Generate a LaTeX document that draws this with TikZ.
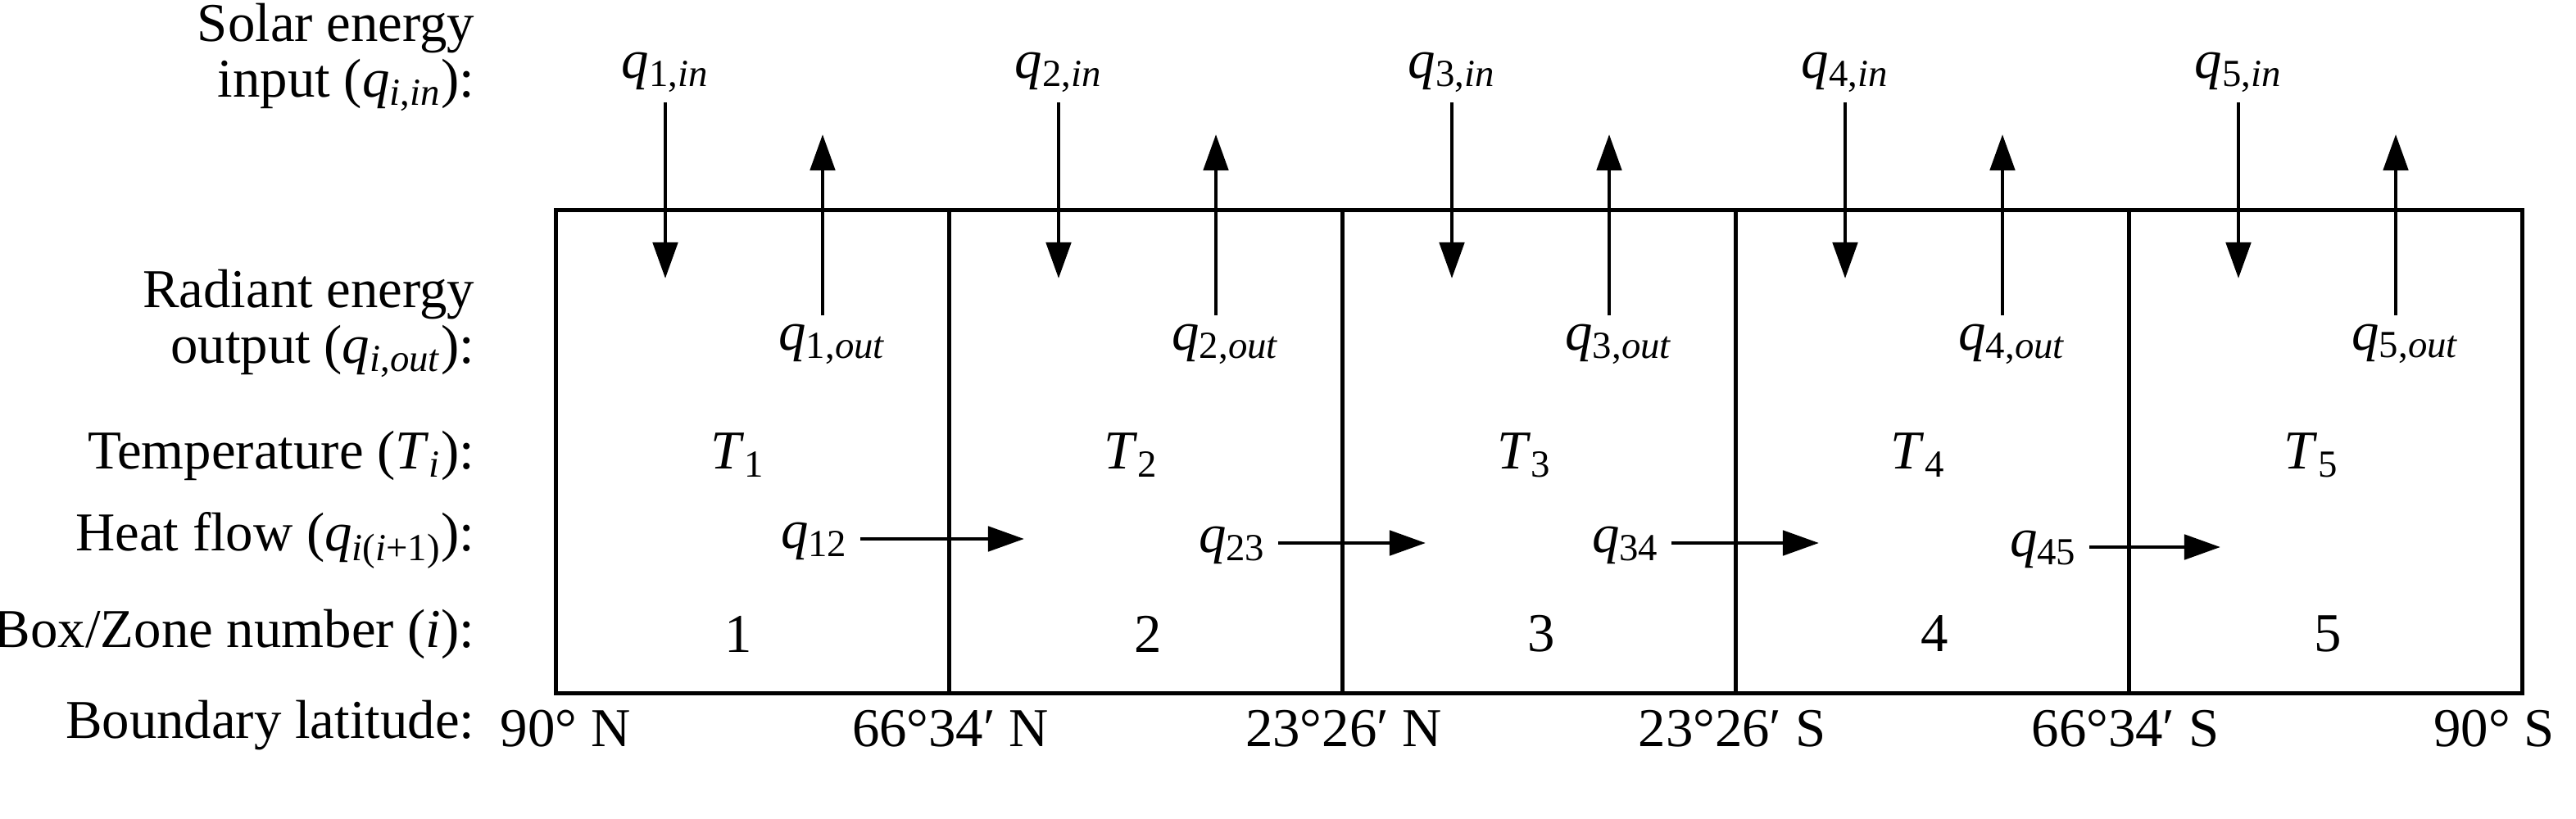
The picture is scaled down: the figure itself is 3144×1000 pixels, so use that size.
\documentclass[tikz,border=0pt]{standalone}
\usepackage{fontspec}
\setmainfont{Liberation Serif}
\usetikzlibrary{arrows.meta}
\newcommand{\qv}[2]{\textit{#1}\textsubscript{#2}}
\begin{document}
\begin{tikzpicture}[x=0.01cm,y=-0.01cm,
  txt/.style={font=\fontsize{19}{19.5}\selectfont,inner sep=0pt},
  lab/.style={txt,anchor=east,align=right},
  arr/.style={line width=1.4pt,-{Triangle[length=0.44cm,width=0.3cm]}},
  box/.style={draw,line width=1.4pt,minimum width=4.8cm,minimum height=5.9cm,inner sep=0pt}]
\useasboundingbox (0,0) rectangle (3144,1000);
\node[lab] (l1) at (580,70) {Solar energy\\input (\qv{q}{\textit{i},\textit{in}}):};
\node[lab] (l2) at (580,395) {Radiant energy\\output (\qv{q}{\textit{i},\textit{out}}):};
\node[lab] (l3) at (580,556) {Temperature (\qv{T}{\textit{i}}):};
\node[lab] (l4) at (580,660) {Heat flow (\qv{q}{\textit{i}(\textit{i}+1)}):};
\node[lab] (l5) at (580,774) {Box/Zone number (\textit{i}):};
\node[lab] (l6) at (580,886) {Boundary latitude:};
\foreach \i in {1,...,5}{
  \pgfmathsetmacro\xl{676+480*(\i-1)}
  \node[box,anchor=north west] (b\i) at (\xl,254) {};
  \node[txt] (qin\i) at ({\xl+136},88) {\qv{q}{\i,\textit{in}}};
  \coordinate (dt\i) at ({\xl+136},125);
  \coordinate (din\i) at ({\xl+136},340);
  \draw[arr] (dt\i) -- (din\i);
  \node[txt] (qout\i) at ({\xl+340},420) {\qv{q}{\i,\textit{out}}};
  \coordinate (uo\i) at ({\xl+328},164);
  \coordinate (us\i) at ({\xl+328},385);
  \draw[arr] (us\i) -- (uo\i);
  \node[txt] (T\i) at ({\xl+225},556) {\qv{T}{\i}};
  \pgfmathsetmacro\nx{\xl+225+(\i>1)*20}
  \node[txt] (n\i) at (\nx,774) {\i};
}
\foreach \i/\j/\dx in {1/2/0,2/3/10,3/4/10,4/5/20}{
  \pgfmathsetmacro\xl{676+480*(\i-1)}
  \node[txt] (h\i) at ({\xl+318+\dx*3},{661+\dx/2}) {\qv{q}{\i\j}};
  \coordinate (hs\i) at ({\xl+374+\dx*3},{658+\dx/2});
  \coordinate (he\i) at ({\xl+574+\dx},{658+\dx/2});
  \draw[arr] (hs\i) -- (he\i);
}
\node[txt] (lat1) at (690,890) {90° N};
\node[txt] (lat2) at (1160,890) {66°34′ N};
\node[txt] (lat3) at (1640,890) {23°26′ N};
\node[txt] (lat4) at (2114,890) {23°26′ S};
\node[txt] (lat5) at (2594,890) {66°34′ S};
\node[txt] (lat6) at (3044,890) {90° S};
\end{tikzpicture}
\end{document}
